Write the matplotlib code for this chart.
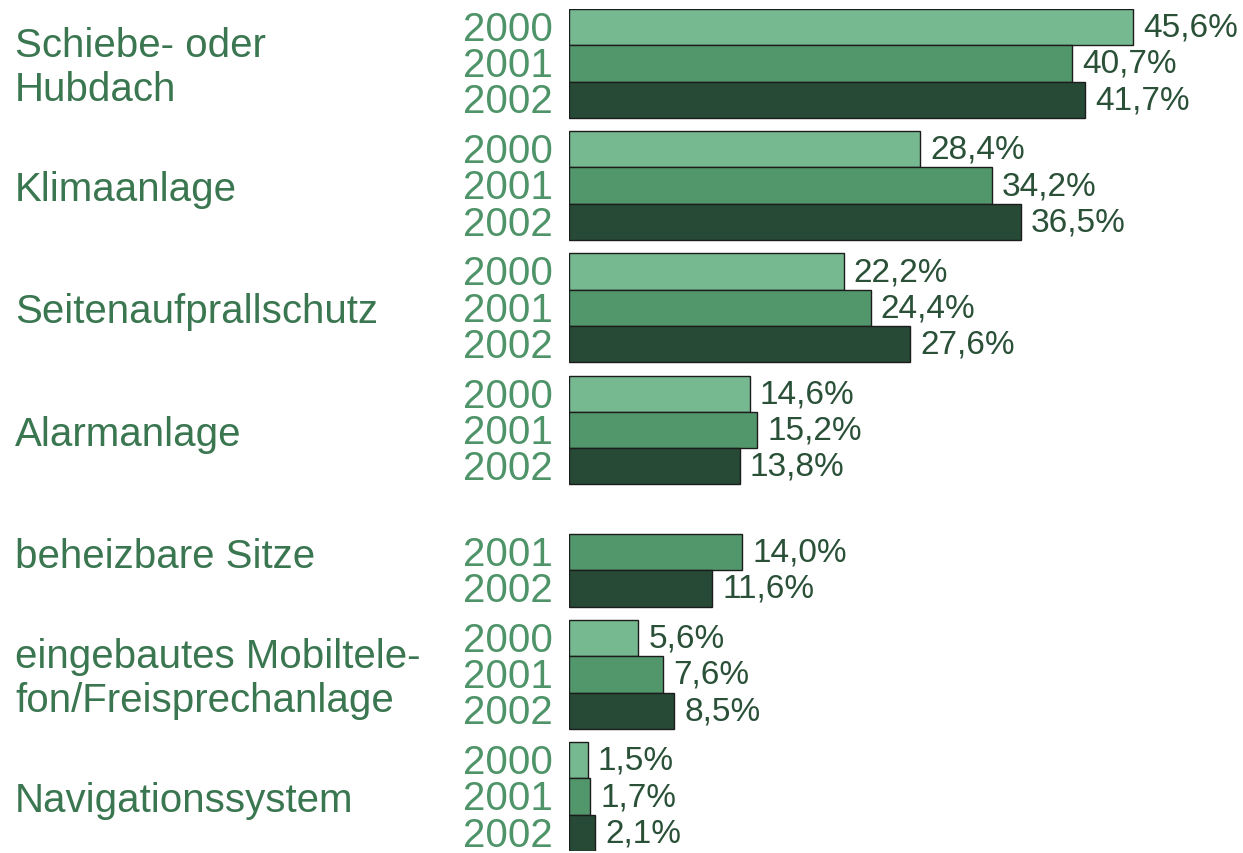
import numpy as np
import matplotlib
matplotlib.use("Agg")
import matplotlib.pyplot as plt

# Daten
kategorien = ["Schiebe- oder\nHubdach", "Klimaanlage", "Seitenaufprallschutz",
              "Alarmanlage", "beheizbare Sitze",
              "eingebautes Mobiltele-\nfon/Freisprechanlage", "Navigationssystem"]
jahre = ["2000", "2001", "2002"]
werte_2000 = [45.6, 28.4, 22.2, 14.6, np.nan, 5.6, 1.5]
werte_2001 = [40.7, 34.2, 24.4, 15.2, 14.0, 7.6, 1.7]
werte_2002 = [41.7, 36.5, 27.6, 13.8, 11.6, 8.5, 2.1]

farben = ["#76b890", "#52976b", "#264a35"]
farbe_jahr = "#4e9468"
farbe_kat = "#3a7650"
farbe_wert = "#2a5038"
schrift = "Liberation Sans"

W, H = 1243, 854
fig = plt.figure(figsize=(W / 100, H / 100), dpi=100)
links, oben, unten = 569, 10, 852
ax = fig.add_axes([links / W, 1 - unten / H, 1 - links / W, (unten - oben) / H])

abstand = 3.37  # Gruppenabstand in Balkenhoehen
px = 12.37      # Pixel pro Prozentpunkt
xmax = (W - links) / px
ax.set_xlim(0, xmax)
ax.set_ylim(6 * abstand + 3, 0)
ax.axis("off")

serien = [werte_2000, werte_2001, werte_2002]
for g, kat in enumerate(kategorien):
    y0 = g * abstand
    for j, werte in enumerate(serien):
        v = werte[g]
        if np.isnan(v):
            continue
        y = y0 + j
        ax.barh(y, v, height=1, align="edge", color=farben[j],
                edgecolor="#1c1c1c", linewidth=1.0)
        ax.text(-16 / px, y + 0.55, jahre[j], ha="right", va="center",
                fontsize=29, color=farbe_jahr, family=schrift, clip_on=False)
        ax.text(v + 10 / px, y + 0.5, f"{v:.1f}".replace(".", ",") + "%",
                ha="left", va="center", fontsize=24, color=farbe_wert,
                family=schrift, clip_on=False)
    ax.text((15 - links) / px, y0 + 1.6, kat, ha="left", va="center",
            fontsize=29, color=farbe_kat, family=schrift, linespacing=1.2,
            clip_on=False)

fig.savefig("out.png", dpi=100)
